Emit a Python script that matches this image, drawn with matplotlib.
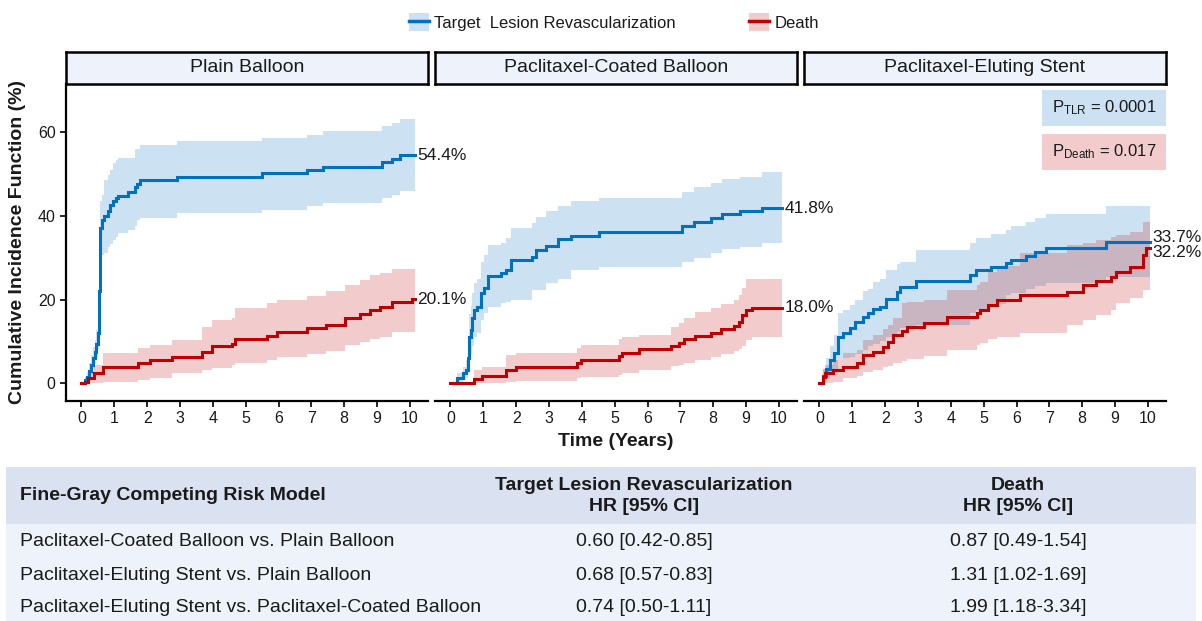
import numpy as np
import matplotlib
matplotlib.use('Agg')
import matplotlib.pyplot as plt
from matplotlib.patches import Patch, Rectangle
from matplotlib.lines import Line2D

plt.rcParams['font.family'] = ['Liberation Sans', 'DejaVu Sans']
plt.rcParams['mathtext.fontset'] = 'custom'
plt.rcParams['mathtext.rm'] = 'Liberation Sans'
plt.rcParams['mathtext.it'] = 'Liberation Sans:italic'
plt.rcParams['mathtext.bf'] = 'Liberation Sans:bold'

# ---- cumulative incidence (%) by arm, step times in years ----
# Plain Balloon
pb_tlr_t = [0, 0.10, 0.16, 0.22, 0.28, 0.34, 0.40, 0.45, 0.49, 0.52, 0.54, 0.56, 0.57, 0.58,
            0.62, 0.70, 0.80, 0.88, 0.97, 1.05, 1.12, 1.43, 1.63, 1.70, 1.78, 2.90, 5.49,
            6.86, 7.36, 9.14, 9.44, 9.70]
pb_tlr_v = [0, 0.8, 1.5, 3.0, 4.5, 6.0, 7.5, 9.5, 12, 16, 22, 28, 34, 37,
            39.0, 40.0, 41.2, 42.5, 43.5, 44.3, 44.8, 45.6, 46.8, 47.6, 48.4, 49.2, 50.1,
            50.9, 51.7, 52.7, 53.5, 54.4]
pb_tlr_lo = [0, 0, 0.3, 1.2, 2.3, 3.4, 4.6, 6.2, 8.3, 11.8, 17, 22.5, 26, 28.5,
             30.5, 31.2, 32.6, 33.3, 34.2, 35.0, 35.8, 36.6, 37.5, 39.0, 39.4, 40.6, 41.4,
             42.2, 43.0, 44.2, 45.0, 45.9]
pb_tlr_hi = [0, 1.6, 2.7, 4.8, 6.7, 8.6, 10.4, 12.8, 15.7, 20.2, 27, 33.5, 40, 43.5,
             45.0, 48.5, 49.7, 51.0, 52.5, 53.3, 53.7, 53.7, 56.0, 56.0, 56.9, 57.7, 58.6,
             59.3, 60.2, 61.3, 62.2, 63.1]
pb_death_t = [0, 0.11, 0.21, 0.37, 0.67, 1.73, 2.09, 2.75, 3.66, 3.97, 4.57, 4.68, 5.64,
              5.94, 6.86, 7.46, 8.02, 8.48, 8.78, 9.09, 9.44, 10.05]
pb_death_v = [0, 0.4, 1.2, 2.4, 3.8, 4.8, 5.6, 6.4, 7.6, 8.8, 9.5, 10.5, 11.3,
              12.2, 13.1, 13.9, 15.5, 16.5, 17.5, 18.3, 19.3, 20.1]
pb_death_lo = [0, 0, 0, 0, 0.4, 0.8, 1.4, 2.4, 3.2, 3.6, 4.3, 4.8, 5.6,
               6.4, 7.0, 7.8, 9.1, 9.9, 10.7, 11.1, 12.2, 12.2]
pb_death_hi = [0, 1.5, 3.0, 4.4, 7.2, 8.4, 9.1, 10.3, 13.5, 15.1, 15.5, 17.9, 19.1,
               19.9, 20.8, 22.1, 23.5, 24.7, 25.9, 26.3, 27.3, 27.3]
pb_end = 10.15

# Paclitaxel-Coated Balloon
pcb_tlr_t = [0, 0.21, 0.37, 0.47, 0.52, 0.55, 0.57, 0.62, 0.67, 0.72, 0.82, 0.92, 1.02,
             1.13, 1.53, 1.68, 1.84, 2.49, 2.60, 2.90, 3.26, 3.66, 4.52, 7.06, 7.41, 7.92,
             8.28, 8.83, 9.49]
pcb_tlr_v = [0, 1.4, 2.4, 3.2, 6.0, 8.8, 11.1, 12.7, 15.5, 17.5, 18.3, 21.5, 22.7,
             25.5, 26.3, 27.0, 29.4, 30.2, 31.7, 32.8, 34.4, 35.2, 36.0, 37.6, 38.6, 39.5,
             40.4, 41.2, 41.8]
pcb_tlr_lo = [0, 0.4, 0.8, 1.2, 2.5, 4.0, 5.5, 7.0, 9.0, 11.1, 11.9, 15.0, 16.7,
              18.3, 19.1, 19.5, 19.9, 22.3, 22.3, 23.9, 25.0, 27.0, 27.7, 29.0, 29.8, 31.0,
              32.0, 32.6, 33.4]
pcb_tlr_hi = [0, 2.5, 4.0, 5.5, 9.5, 13.5, 16.5, 18.5, 21.5, 24.0, 25.0, 29.0, 30.5,
              33.0, 33.4, 34.6, 37.0, 38.2, 39.8, 41.0, 42.3, 43.4, 44.3, 45.7, 46.8, 47.9,
              48.8, 49.3, 50.5]
pcb_death_t = [0, 0.72, 0.97, 1.68, 1.99, 3.86, 3.97, 5.13, 5.23, 5.74, 6.70, 6.96, 7.11,
               7.46, 7.92, 8.23, 8.63, 8.78, 8.88, 8.99, 9.19]
pcb_death_v = [0, 1.0, 1.8, 3.2, 3.8, 4.8, 5.6, 6.5, 7.3, 8.1, 8.9, 9.7, 10.5,
               11.3, 12.1, 13.0, 13.7, 14.7, 16.3, 17.5, 18.0]
pcb_death_lo = [0, 0, 0.2, 0.4, 0.6, 1.2, 1.6, 2.1, 2.5, 3.3, 4.1, 4.5, 4.8,
                5.6, 6.4, 7.0, 7.8, 8.2, 8.8, 10.3, 11.1]
pcb_death_hi = [0, 3.3, 4.0, 6.8, 7.2, 8.4, 9.1, 10.5, 11.1, 11.5, 13.5, 14.5, 15.5,
                17.1, 17.9, 18.9, 19.9, 21.0, 22.7, 24.8, 24.8]
pcb_end = 10.08

# Paclitaxel-Eluting Stent
pes_tlr_t = [0, 0.10, 0.20, 0.32, 0.45, 0.57, 0.72, 0.92, 1.07, 1.33, 1.48, 1.63, 1.84,
             2.04, 2.35, 2.45, 2.95, 4.58, 4.77, 5.23, 5.69, 5.84, 6.30, 6.55, 6.91, 8.73]
pes_tlr_v = [0, 1.8, 3.4, 5.6, 7.2, 11.1, 12.0, 13.2, 14.7, 15.9, 16.7, 17.7, 18.3,
             20.1, 21.7, 23.0, 24.3, 25.9, 27.0, 27.7, 28.8, 29.4, 30.4, 31.4, 32.2, 33.7]
pes_tlr_lo = [0, 0.3, 1.0, 2.5, 3.5, 5.5, 6.0, 6.4, 7.0, 8.0, 8.8, 9.5, 10.2,
              11.0, 12.3, 13.2, 14.0, 16.8, 17.5, 19.0, 21.0, 21.5, 22.5, 23.2, 23.9, 25.4]
pes_tlr_hi = [0, 3.5, 6.0, 9.0, 11.5, 16.8, 17.5, 18.8, 19.9, 22.0, 22.4, 24.2, 25.0,
              27.0, 28.5, 29.0, 31.8, 33.5, 34.7, 35.6, 36.6, 37.5, 38.4, 39.4, 40.4, 42.3]
pes_death_t = [0, 0.10, 0.17, 0.42, 0.72, 1.13, 1.33, 1.63, 1.94, 2.09, 2.25, 2.50, 2.66,
               3.17, 3.88, 4.79, 4.90, 5.13, 5.42, 6.12, 7.53, 8.01, 8.42, 8.87, 9.03, 9.44,
               9.85, 9.95]
pes_death_v = [0, 1.5, 2.4, 3.2, 4.0, 4.8, 6.8, 7.5, 8.7, 9.9, 11.5, 12.6, 13.5,
               14.3, 15.9, 16.8, 17.5, 18.7, 20.0, 21.1, 21.9, 23.5, 24.3, 25.4, 26.6, 27.8,
               30.6, 32.2]
pes_death_lo = [0, 0, 0.2, 0.4, 1.2, 1.8, 2.8, 3.2, 3.8, 4.2, 4.8, 5.4, 5.8,
                6.6, 8.0, 9.1, 9.6, 10.5, 11.1, 12.0, 13.9, 15.1, 16.3, 17.5, 19.1, 20.3,
                22.3, 22.3]
pes_death_hi = [0, 3.5, 4.5, 5.6, 7.2, 8.0, 10.3, 11.5, 13.0, 13.9, 15.6, 19.2, 19.5,
                19.9, 22.3, 23.5, 24.2, 26.6, 28.0, 31.0, 33.0, 33.5, 34.2, 35.0, 35.4, 36.2,
                38.6, 38.6]
pes_end = 10.05

panel_titles = ['Plain Balloon', 'Paclitaxel-Coated Balloon', 'Paclitaxel-Eluting Stent']
label_nudge = [(0, 0), (0, 0), (1.0, -1.1)]   # (TLR, death) label offsets

p_tlr = '0.0001'
p_death = '0.017'

# Fine-Gray model table
comparisons = ['Paclitaxel-Coated Balloon vs. Plain Balloon',
               'Paclitaxel-Eluting Stent vs. Plain Balloon',
               'Paclitaxel-Eluting Stent vs. Paclitaxel-Coated Balloon']
tlr_hr = ['0.60 [0.42-0.85]', '0.68 [0.57-0.83]', '0.74 [0.50-1.11]']
death_hr = ['0.87 [0.49-1.54]', '1.31 [1.02-1.69]', '1.99 [1.18-3.34]']

BLUE = '#0070C0'
RED = '#C00000'
BLUE_FILL = '#CCE2F2'
RED_FILL = '#F2CCCC'
STRIP_BG = '#EEF2FA'
HEAD_BG = '#DAE2F2'
ROW_BG = '#EEF2FA'
TXT = '#1a1a1a'

W, H = 1202, 621
fig = plt.figure(figsize=(W / 100, H / 100), dpi=100)

panels = [
    (pb_tlr_t, pb_tlr_v, pb_tlr_lo, pb_tlr_hi, pb_death_t, pb_death_v, pb_death_lo, pb_death_hi, pb_end),
    (pcb_tlr_t, pcb_tlr_v, pcb_tlr_lo, pcb_tlr_hi, pcb_death_t, pcb_death_v, pcb_death_lo, pcb_death_hi, pcb_end),
    (pes_tlr_t, pes_tlr_v, pes_tlr_lo, pes_tlr_hi, pes_death_t, pes_death_v, pes_death_lo, pes_death_hi, pes_end),
]
lefts = [66, 435, 804]
pw = 362
ax_top, ax_bot = 84, 401
strip_top = 52


def draw_cif(ax, t, v, lo, hi, t_end, line_c, fill_c):
    t = np.append(t, t_end)
    v = np.append(v, v[-1])
    lo = np.append(lo, lo[-1])
    hi = np.append(hi, hi[-1])
    ax.fill_between(t, lo, hi, step='post', color=line_c, alpha=0.2, lw=0)
    ax.step(t, v, where='post', color=line_c, lw=2.2, solid_joinstyle='miter')


axes = []
for i, (data, left) in enumerate(zip(panels, lefts)):
    tt, tv, tlo, thi, dt, dv, dlo, dhi, t_end = data
    ax = fig.add_axes([left / W, 1 - ax_bot / H, pw / W, (ax_bot - ax_top) / H])
    draw_cif(ax, tt, tv, tlo, thi, t_end, BLUE, BLUE_FILL)
    draw_cif(ax, dt, dv, dlo, dhi, t_end, RED, RED_FILL)

    nt, nd = label_nudge[i]
    ax.text(t_end + 0.08, tv[-1] + nt, f'{tv[-1]:.1f}%', ha='left', va='center',
            fontsize=12.5, color=TXT, clip_on=False)
    ax.text(t_end + 0.08, dv[-1] + nd, f'{dv[-1]:.1f}%', ha='left', va='center',
            fontsize=12.5, color=TXT, clip_on=False)

    ax.set_xlim(-0.47, 10.55)
    ax.set_ylim(-4.2, 71.4)
    ax.set_xticks(range(0, 11))
    ax.set_yticks([0, 20, 40, 60])
    for s in ['top', 'right']:
        ax.spines[s].set_visible(False)
    ax.spines['bottom'].set_linewidth(1.6)
    ax.spines['left'].set_linewidth(1.6)
    ax.tick_params(axis='both', direction='out', length=4.5, width=1.2,
                   labelsize=11.5, labelcolor=TXT, pad=3)
    if i > 0:
        ax.spines['left'].set_visible(False)
        ax.tick_params(axis='y', left=False, labelleft=False)
    ax.set_facecolor('none')

    # facet strip
    sax = fig.add_axes([left / W, 1 - ax_top / H, pw / W, (ax_top - strip_top) / H])
    sax.set_facecolor(STRIP_BG)
    sax.set_xticks([])
    sax.set_yticks([])
    for s in sax.spines.values():
        s.set_linewidth(1.8)
        s.set_color('black')
    sax.text(0.5, 0.5, panel_titles[i], ha='center', va='center', fontsize=14,
             color=TXT, transform=sax.transAxes)
    axes.append(ax)

# p-value boxes in the last panel
ax3 = axes[2]
ax3.add_patch(Rectangle((0.657, 0.8675), 0.343, 0.1135, transform=ax3.transAxes,
                        facecolor=BLUE_FILL, lw=0, clip_on=False))
ax3.add_patch(Rectangle((0.657, 0.729), 0.343, 0.113, transform=ax3.transAxes,
                        facecolor=RED_FILL, lw=0, clip_on=False))
ax3.text(0.8285, 0.924, r'P$_{\rm TLR}$ = ' + p_tlr, transform=ax3.transAxes,
         ha='center', va='center', fontsize=12, color=TXT)
ax3.text(0.8285, 0.786, r'P$_{\rm Death}$ = ' + p_death, transform=ax3.transAxes,
         ha='center', va='center', fontsize=12, color=TXT)

fig.text(18 / W, 1 - 242 / H, 'Cumulative Incidence Function (%)', rotation=90,
         ha='center', va='center', fontsize=14, fontweight='bold', color=TXT)
fig.text(615.5 / W, 1 - 441 / H, 'Time (Years)', ha='center', va='center',
         fontsize=14, fontweight='bold', color=TXT)

# legend
handles = [(Patch(facecolor=BLUE_FILL, lw=0), Line2D([], [], color=BLUE, lw=2.5)),
           (Patch(facecolor=RED_FILL, lw=0), Line2D([], [], color=RED, lw=2.5))]
fig.legend(handles, ['Target  Lesion Revascularization', 'Death'], loc='center',
           bbox_to_anchor=(614 / W, 1 - 22 / H), ncol=2, frameon=False, fontsize=12,
           handlelength=1.2, handleheight=1.2, handletextpad=0.3, columnspacing=4.4,
           labelcolor=TXT)

# hazard ratio table
tab = fig.add_axes([0, 0, 1, (H - 466) / H])
tab.set_xlim(0, W)
tab.set_ylim(H, 466)
tab.axis('off')
tab.add_patch(Rectangle((6, 466.5), 1190, 57, facecolor=HEAD_BG, lw=0))
tab.add_patch(Rectangle((6, 523.5), 1190, 98, facecolor=ROW_BG, lw=0))
tab.text(20, 496, 'Fine-Gray Competing Risk Model', ha='left', va='center',
         fontsize=14, fontweight='bold', color=TXT)
tab.text(644, 496, 'Target Lesion Revascularization\nHR [95% CI]', ha='center',
         va='center', fontsize=14, fontweight='bold', color=TXT, linespacing=1.35)
tab.text(1018, 496, 'Death\nHR [95% CI]', ha='center', va='center', fontsize=14,
         fontweight='bold', color=TXT, linespacing=1.35)
for row_y, comp, a, b in zip([541, 575, 608], comparisons, tlr_hr, death_hr):
    tab.text(20, row_y, comp, ha='left', va='center', fontsize=14, color=TXT)
    tab.text(644, row_y, a, ha='center', va='center', fontsize=14, color=TXT)
    tab.text(1018, row_y, b, ha='center', va='center', fontsize=14, color=TXT)

fig.savefig('out.png', dpi=100)
